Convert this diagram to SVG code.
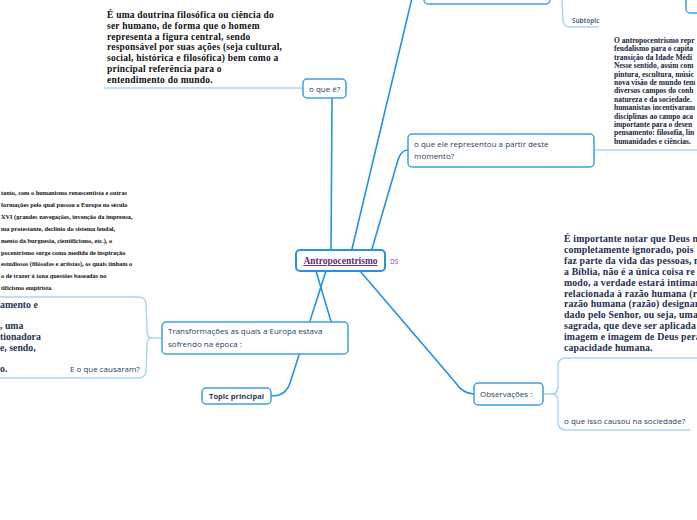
<svg xmlns="http://www.w3.org/2000/svg" width="697" height="520" viewBox="0 0 697 520">
<style>
.bg{fill:#ffffff}
.box{fill:#ffffff;stroke:#3ea0e4;stroke-width:1.5}
.main{fill:#ffffff;stroke:#2794e0;stroke-width:2}
.con{fill:none;stroke:#2592df;stroke-width:1.6;stroke-linecap:round}
.lite{fill:none;stroke:#a9d5f3;stroke-width:1.5;stroke-linecap:round}
.hand{font-family:"Open Sans","DejaVu Sans",sans-serif;font-size:8px;fill:#2a3d5c}
.ser{font-family:"Liberation Serif","DejaVu Serif",serif;font-weight:bold}
.t1{font-size:9.5px;fill:#111111;letter-spacing:0.22px}
.t2{font-size:6.3px;fill:#111111}
.t3{font-size:7.5px;fill:#152540}
.t4{font-size:9.8px;fill:#1c2f4f;letter-spacing:0.15px}
.t5{font-size:9.8px;fill:#1f3556}
</style>
<rect class="bg" x="0" y="0" width="697" height="520"/>
<g id="connectors">
<path class="con" d="M352,249 L412,-2"/>
<path class="con" d="M331,249 L332,100 Q333,88 346,88"/>
<path class="con" d="M372,249 L398,160 Q401,150 408,150"/>
<path class="con" d="M316,271 L333,328 Q336,338 348,338"/>
<path class="con" d="M326,271 L290,383 Q286,396 271,396"/>
<path class="con" d="M360,271 L455,382 Q463,394 474,394"/>
<path class="lite" d="M303,88 L105,88"/>
<path class="lite" d="M594,150 L697,150"/>
<path class="lite" d="M550,-8 L556,-8 Q562,-8 562,0 L563,21 Q564,27 570,27 L598,27"/>
<path class="lite" d="M162,338 L151,338 Q147,338 147,330 L146,303 Q145,297 138,297 L0,297"/>
<path class="lite" d="M151,338 Q147,338 147,346 L146,372 Q145,378 138,378 L0,378"/>
<path class="lite" d="M543,394 L552,394 Q558,394 558,386 L558,366 Q558,358 566,358 L697,358"/>
<path class="lite" d="M552,394 Q558,394 558,402 L558,422 Q558,430 566,430 L690,430"/>
</g>
<g id="node-central">
<rect class="main" x="296" y="250" width="89" height="21" rx="4"/>
<text x="340.5" y="264" text-anchor="middle" class="ser" style="font-size:9.5px;fill:#5e2a86;text-decoration:underline">Antropocentrismo</text>
<text x="390" y="264" style="font-family:'Open Sans',sans-serif;font-size:6.5px;fill:#7b3fa8">DS</text>
</g>
<g id="node-top">
<rect class="box" x="424" y="-20" width="126" height="24" rx="4"/>
</g>
<g id="node-topright">
<rect class="box" x="686" y="-10" width="30" height="23" rx="4"/>
</g>
<g id="node-subtopic">
<text x="572" y="23" style="font-family:'Open Sans',sans-serif;font-size:6.3px;font-weight:bold;fill:#5a6e8c">Subtopic</text>
</g>
<g id="node-oque">
<rect class="box" x="303" y="79" width="43" height="19" rx="4"/>
<text x="309" y="91.5" class="hand">o que é?</text>
</g>
<g id="node-def">
<text class="ser t1"><tspan x="107" y="18">É uma doutrina filosófica ou ciência do</tspan><tspan x="107" y="28.8">ser humano, de forma que o homem</tspan><tspan x="107" y="39.6">representa a figura central, sendo</tspan><tspan x="107" y="50.4">responsável por suas ações (seja cultural,</tspan><tspan x="107" y="61.2">social, histórica e filosófica) bem como a</tspan><tspan x="107" y="72">principal referência para o</tspan><tspan x="107" y="82.8">entendimento do mundo.</tspan></text>
</g>
<g id="node-representou">
<rect class="box" x="408" y="134" width="186" height="33" rx="4"/>
<text class="hand"><tspan x="414" y="147">o que ele representou a partir deste</tspan><tspan x="414" y="159">momento?</tspan></text>
</g>
<g id="node-repr-text">
<text class="ser t3"><tspan x="614" y="43">O antropocentrismo repr</tspan><tspan x="614" y="51.4">feudalismo para o capita</tspan><tspan x="614" y="59.8">transição da Idade Médi</tspan><tspan x="614" y="68.2">Nesse sentido, assim com</tspan><tspan x="614" y="76.6">pintura, escultura, músic</tspan><tspan x="614" y="85">nova visão de mundo tem</tspan><tspan x="614" y="93.4">diversos campos do conh</tspan><tspan x="614" y="101.8">natureza e da sociedade.</tspan><tspan x="614" y="110.2">humanistas incentivaram</tspan><tspan x="614" y="118.6">disciplinas ao campo aca</tspan><tspan x="614" y="127">importante para o desen</tspan><tspan x="614" y="135.4">pensamento: filosofia, lin</tspan><tspan x="614" y="143.8">humanidades e ciências.</tspan></text>
</g>
<g id="node-transformacoes">
<rect class="box" x="162" y="322" width="186" height="32" rx="4"/>
<text class="hand"><tspan x="168" y="334">Transformações as quais a Europa estava</tspan><tspan x="168" y="347">sofrendo na época :</tspan></text>
</g>
<g id="node-left-text">
<text class="ser t2"><tspan x="1" y="195">tanto, com o humanismo renascentista e outras</tspan><tspan x="1" y="207">formações pelo qual passou a Europa no século</tspan><tspan x="1" y="219">XVI (grandes navegações, invenção da imprensa,</tspan><tspan x="1" y="231">ma protestante, declínio do sistema feudal,</tspan><tspan x="1" y="243">mento da burguesia, cientificismo, etc.), o</tspan><tspan x="1" y="255">pocentrismo surge como medida de inspiração</tspan><tspan x="1" y="266">estudiosos (filósofos e artistas), os quais tinham o</tspan><tspan x="1" y="278">o de trazer à tona questões baseadas no</tspan><tspan x="1" y="290">tificismo empirista.</tspan></text>
</g>
<g id="node-left-bold">
<text class="ser t5"><tspan x="0" y="308">amento e</tspan><tspan x="0" y="329">, uma</tspan><tspan x="0" y="340">tionadora</tspan><tspan x="0" y="351">e, sendo,</tspan><tspan x="0" y="372">o.</tspan></text>
<text x="70" y="372" class="hand">E o que causaram?</text>
</g>
<g id="node-topic-principal">
<rect class="box" x="202" y="388" width="69" height="16" rx="4"/>
<text x="236.5" y="399" text-anchor="middle" style="font-family:'Open Sans',sans-serif;font-size:7.5px;font-weight:bold;fill:#2a3d5c">Topic principal</text>
</g>
<g id="node-observacoes">
<rect class="box" x="474" y="383" width="69" height="22" rx="4"/>
<text x="480" y="397" class="hand">Observações :</text>
</g>
<g id="node-obs-text">
<text class="ser t4"><tspan x="564" y="242">É importante notar que Deus n</tspan><tspan x="564" y="252.9">completamente ignorado, pois "</tspan><tspan x="564" y="263.8">faz parte da vida das pessoas, n</tspan><tspan x="564" y="274.7">a Bíblia, não é a única coisa re</tspan><tspan x="564" y="285.6">modo, a verdade estará intiman</tspan><tspan x="564" y="296.5">relacionada à razão humana (ra</tspan><tspan x="564" y="307.4">razão humana (razão) designar</tspan><tspan x="564" y="318.3">dado pelo Senhor, ou seja, uma</tspan><tspan x="564" y="329.2">sagrada, que deve ser aplicada</tspan><tspan x="564" y="340.1">imagem e imagem de Deus pera</tspan><tspan x="564" y="351">capacidade humana.</tspan></text>
</g>
<g id="node-causou">
<text x="564" y="424" class="hand">o que isso causou na sociedade?</text>
</g>
</svg>
